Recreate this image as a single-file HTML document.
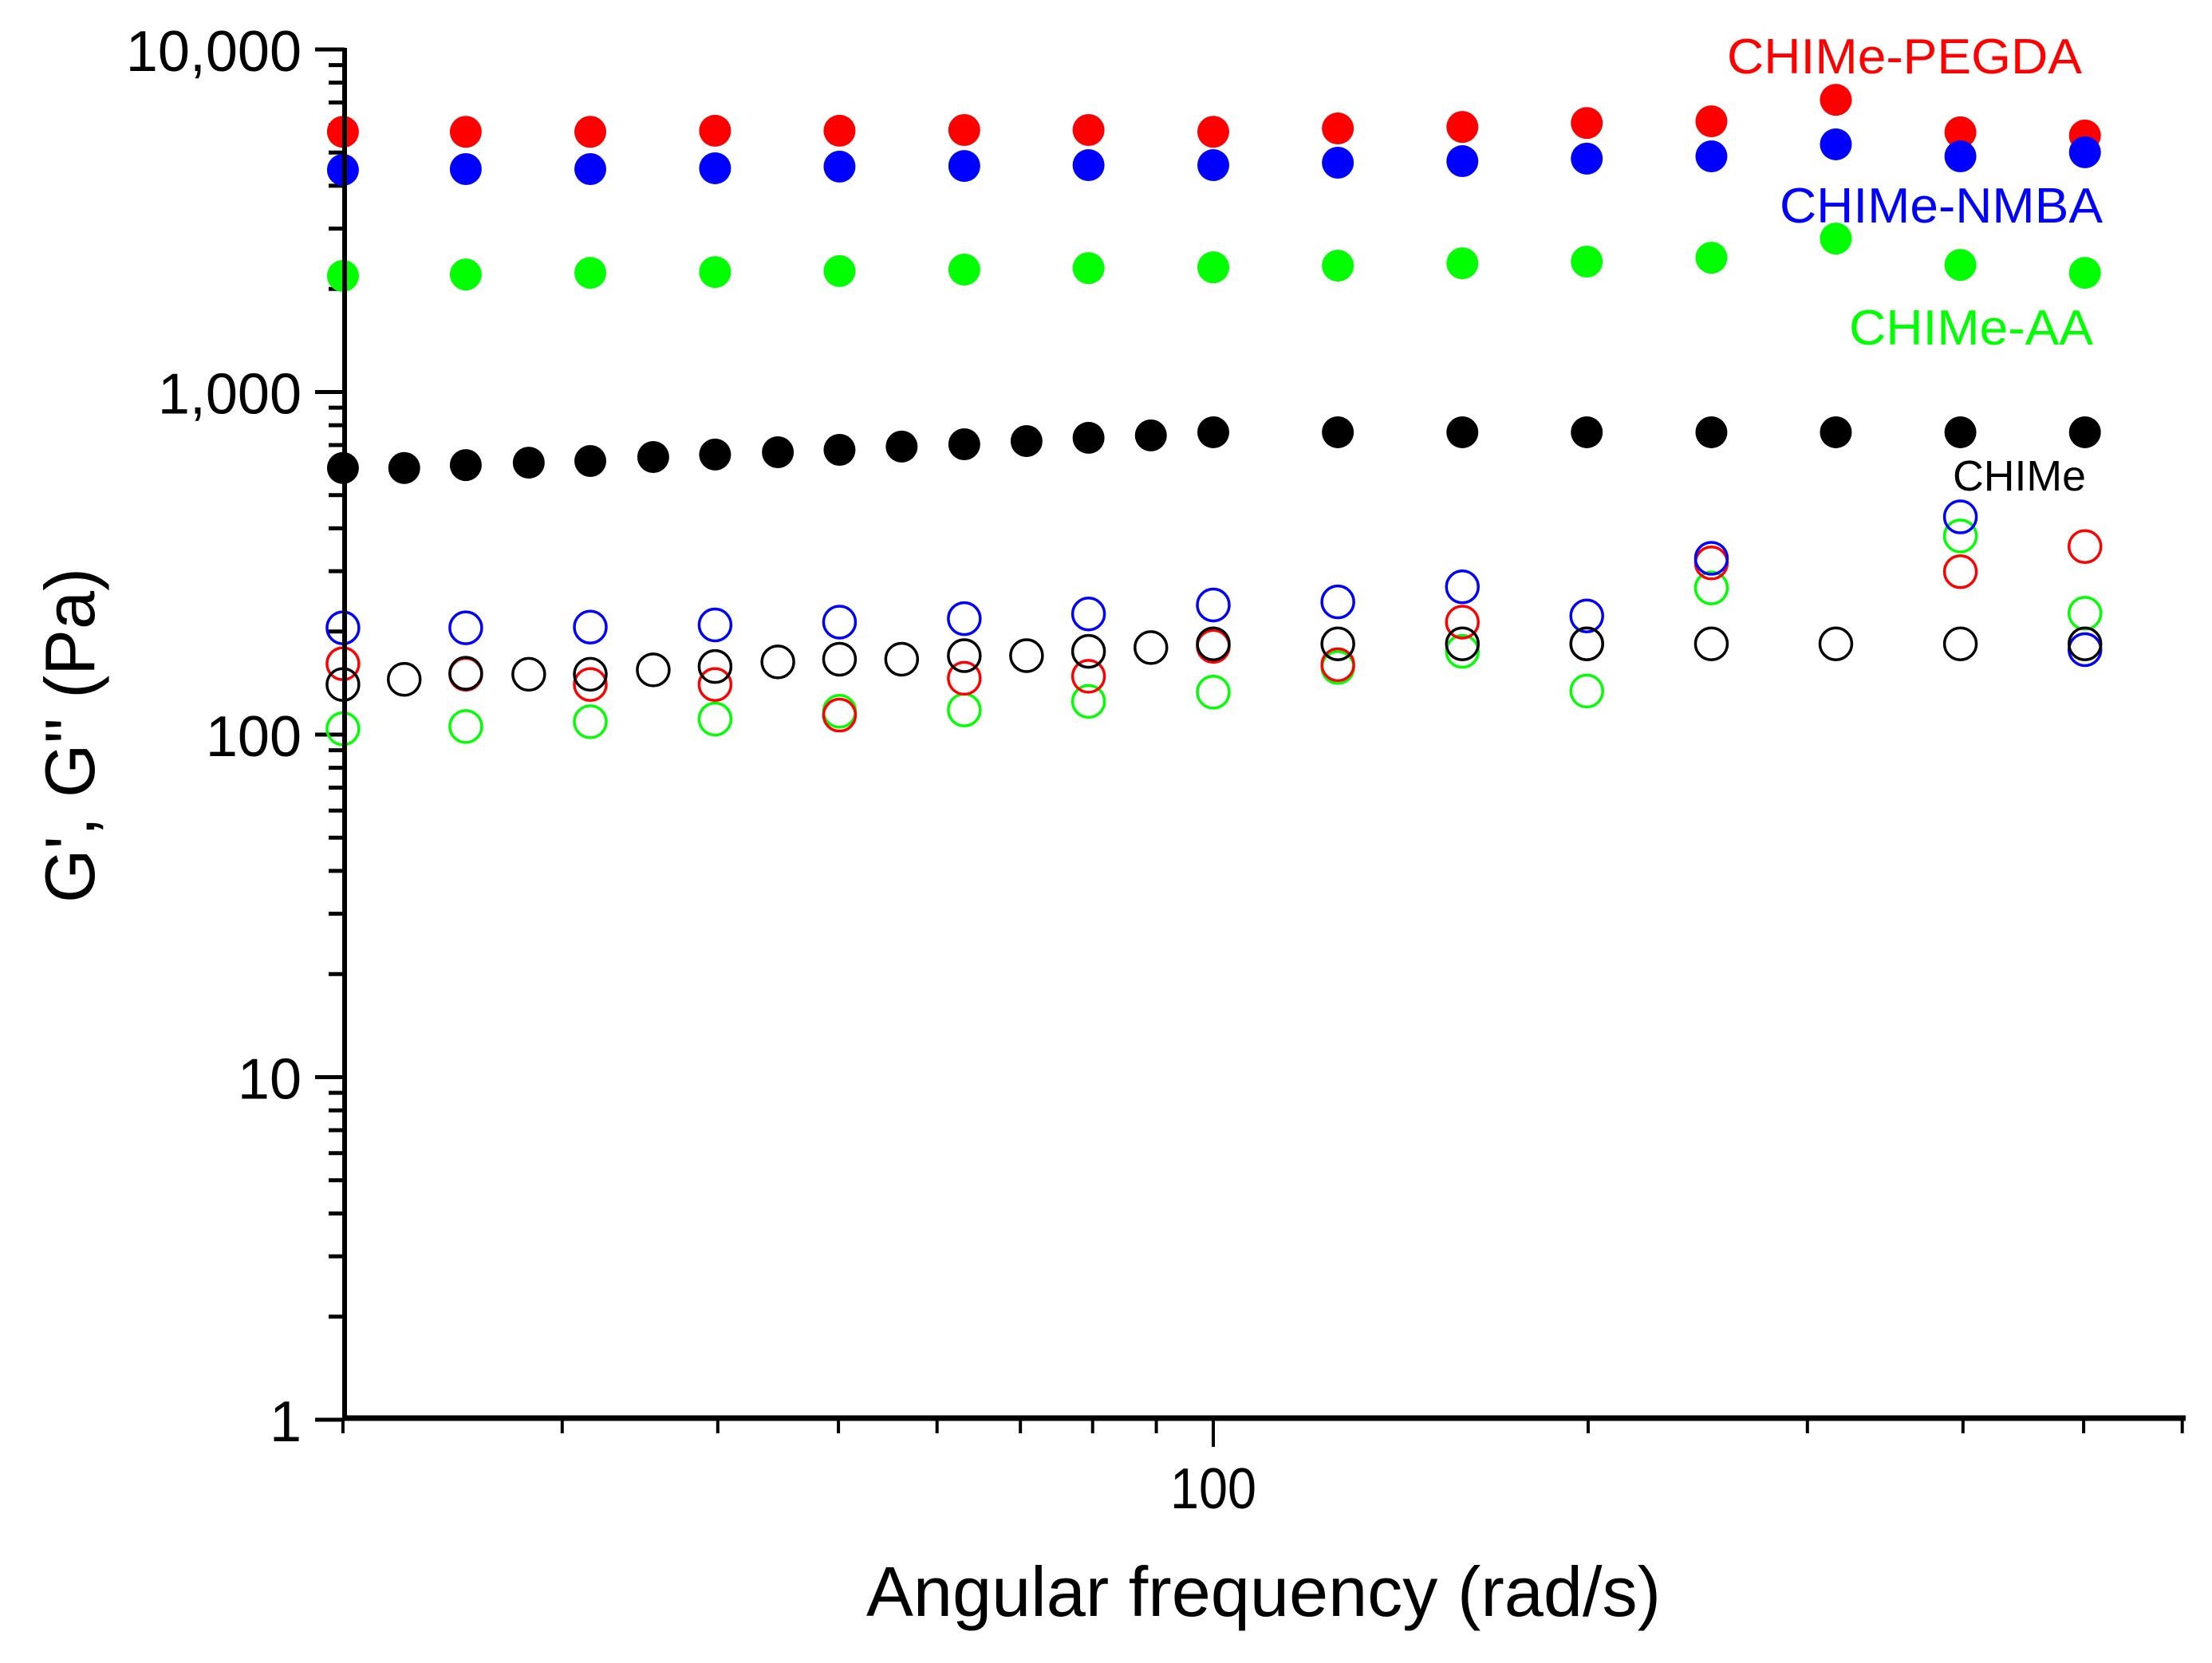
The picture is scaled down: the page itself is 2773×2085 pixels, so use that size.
<!DOCTYPE html>
<html>
<head>
<meta charset="utf-8">
<style>
html,body{margin:0;padding:0;background:#fff;}
svg{display:block;font-family:"Liberation Sans",Arial,sans-serif;}
</style>
</head>
<body>
<svg id="chart" width="2773" height="2085" viewBox="0 0 2773 2085" xmlns="http://www.w3.org/2000/svg">
  <rect width="2773" height="2085" fill="#fff"/>
  <g id="ticks"></g>
  <g id="marks"></g>
  <line x1="432" y1="60" x2="432" y2="1781" stroke="#000" stroke-width="6"/>
  <line x1="429" y1="1778" x2="2740" y2="1778" stroke="#000" stroke-width="7"/>
  <g id="labels"></g>
  <text x="1086" y="2026" font-size="88" textLength="996" lengthAdjust="spacingAndGlyphs">Angular frequency (rad/s)</text>
  <text transform="translate(118,922) rotate(-90)" text-anchor="middle" font-size="88" textLength="420" lengthAdjust="spacingAndGlyphs">G', G'' (Pa)</text>
  <text x="2165" y="92" font-size="62" fill="#ff0000" textLength="445" lengthAdjust="spacingAndGlyphs">CHIMe-PEGDA</text>
  <text x="2231" y="279" font-size="62" fill="#0000ff" textLength="405" lengthAdjust="spacingAndGlyphs">CHIMe-NMBA</text>
  <text x="2318" y="432" font-size="62" fill="#00ff00" textLength="306" lengthAdjust="spacingAndGlyphs">CHIMe-AA</text>
  <text x="2448" y="615" font-size="54" fill="#000" textLength="167" lengthAdjust="spacingAndGlyphs">CHIMe</text>
</svg>
<script>
// ---- data ----
const freq15 = [20,25.1,31.6,39.8,50.1,63.1,79.4,100,125.9,158.5,199.5,251.2,316.2,398.1,501.2];
const freqBlack = [20,22.4,25.1,28.2,31.6,35.5,39.8,44.7,50.1,56.2,63.1,70.8,79.4,89.1,100,125.9,158.5,199.5,251.2,316.2,398.1,501.2];
const gPrimePEGDA = [5750,5750,5750,5790,5790,5820,5820,5750,5880,5940,6100,6170,7130,5730,5610];
const gPrimeNMBA = [4450,4475,4475,4500,4550,4570,4595,4595,4670,4720,4800,4875,5285,4875,5010];
const gPrimeAA = [2183,2204,2228,2240,2254,2277,2300,2312,2338,2376,2403,2466,2805,2350,2228];
const gPrimeCHIMe = [600,600,612,622,629,646,657,667,678,693,704,719,735,747,763,763,763,763,763,763,763,763];
const gDoublePEGDA = [161,150,140,140,114,146,148,181,160,213,184,317,null,299,354];
const gDoubleNMBA = [205,205,206,209,213,218,225,239,244,270,222,327,null,432,177];
const gDoubleAA = [104,105.6,109,111,117,118,125,133,157,175,134,268,null,380,226];
const gDoubleCHIMe = [140,145,151,150,150,154.5,158,163,166,166,170,170,175,179.5,184,184,184,184,184,184,184,184];
const yTickValues = [1,10,100,1000,10000];
const yTickLabels = ["1","10","100","1,000","10,000"];
const xTickValues = [100];
const xTickLabels = ["100"];

// ---- axes ----
const X100 = 1521, XD = 1561;
const Y1 = 1780, YD = 429.5;
function xs(v){ return X100 + Math.log10(v/100)*XD; }
function ys(v){ return Y1 - Math.log10(v)*YD; }

const NS = "http://www.w3.org/2000/svg";
function mk(tag, attrs, parent){
  const e = document.createElementNS(NS, tag);
  for (const k in attrs) e.setAttribute(k, attrs[k]);
  parent.appendChild(e);
  return e;
}
const ticks = document.getElementById('ticks');
const labels = document.getElementById('labels');
const marks = document.getElementById('marks');

// y ticks
for (let d = 0; d < 4; d++) {
  for (let m = 2; m <= 9; m++) {
    const t = mk('line', {x1: 412, x2: 432, y1: ys(m*Math.pow(10,d)), y2: ys(m*Math.pow(10,d)), stroke: '#000', 'stroke-width': 5}, ticks);
    
    
  }
}
yTickValues.forEach((v, i) => {
  const t = mk('line', {x1: 395, x2: 432, y1: ys(v), y2: ys(v), stroke: '#000', 'stroke-width': 5}, ticks);
  
  
  const lb = mk('text', {x: 378, y: ys(v) + 27, 'font-size': 72, 'text-anchor': 'end'}, labels);
  lb.textContent = yTickLabels[i];
  
  
});
// x ticks
[20,30,40,50,60,70,80,90,200,300,400,500,600].forEach(v => {
  const t = mk('line', {x1: xs(v), x2: xs(v), y1: 1778, y2: 1797, stroke: '#000', 'stroke-width': 4}, ticks);
  
  
});
xTickValues.forEach((v, i) => {
  const t = mk('line', {x1: xs(v), x2: xs(v), y1: 1778, y2: 1814, stroke: '#000', 'stroke-width': 4}, ticks);
  
  
  const lb = mk('text', {x: xs(v), y: 1891, 'font-size': 72, 'text-anchor': 'middle', textLength: 108, lengthAdjust: 'spacingAndGlyphs'}, labels);
  lb.textContent = xTickLabels[i];
  
  
});

// series
function drawSeries(xv, yv, color, filled, name){
  const g = mk('g', {}, marks);
  
  
  yv.forEach((v, i) => {
    if (v == null) return;
    const c = mk('ellipse', {cx: xs(xv[i]), cy: ys(v), rx: 20, ry: 20,
      fill: filled ? color : 'none', stroke: color, 'stroke-width': filled ? 0 : 3.5}, g);
    
    
  });
}
drawSeries(freq15, gDoubleAA, '#00ff00', false, 'g-double-prime-aa');
drawSeries(freq15, gDoublePEGDA, '#ff0000', false, 'g-double-prime-pegda');
drawSeries(freq15, gDoubleNMBA, '#0000ff', false, 'g-double-prime-nmba');
drawSeries(freqBlack, gDoubleCHIMe, '#000000', false, 'g-double-prime-chime');
drawSeries(freqBlack, gPrimeCHIMe, '#000000', true, 'g-prime-chime');
drawSeries(freq15, gPrimeAA, '#00ff00', true, 'g-prime-aa');
drawSeries(freq15, gPrimePEGDA, '#ff0000', true, 'g-prime-pegda');
drawSeries(freq15, gPrimeNMBA, '#0000ff', true, 'g-prime-nmba');
</script>
</body>
</html>
